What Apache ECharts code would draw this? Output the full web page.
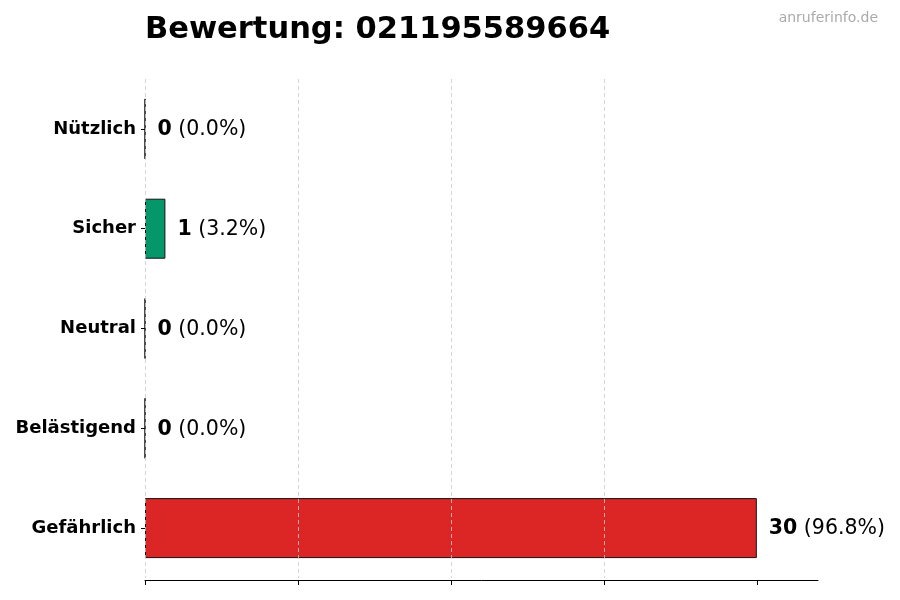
<!DOCTYPE html>
<html><head><meta charset="utf-8">
<script src="https://cdn.jsdelivr.net/npm/echarts@6/dist/echarts.min.js"></script>
<style>html,body{margin:0;padding:0;background:#fff}#c{width:900px;height:600px}</style>
</head><body><div id="c"></div>
<script>
const titleText = 'Bewertung: 021195589664';
const watermark = 'anruferinfo.de';
const categories = ['Nützlich', 'Sicher', 'Neutral', 'Belästigend', 'Gefährlich'];
const counts = [0, 1, 0, 0, 30];
const percents = ['0.0', '3.2', '0.0', '0.0', '96.8'];
const colors = ['#6b7280', '#059669', '#9ca3af', '#f59e0b', '#dc2626'];
const xTicks = [0, 7.5, 15, 22.5, 30];

const chart = echarts.init(document.getElementById('c'), null, {renderer: 'canvas'});
const font = 'DejaVu Sans';
chart.setOption({
  animation: false,
  backgroundColor: '#fff',
  textStyle: {fontFamily: font},
  title: [
    {text: titleText, left: 140, top: 10, textStyle: {fontFamily: font, fontSize: 30.5, fontWeight: 'bold', color: '#000'}},
    {text: watermark, right: 17, top: 6, textStyle: {fontFamily: font, fontSize: 14, fontWeight: 'normal', color: '#aaaaaa'}}
  ],
  grid: {left: 145, right: 82, top: 79, height: 499, containLabel: false},
  xAxis: {
    type: 'value', min: 0, max: 33, interval: 7.5, z: 10, offset: 2,
    axisLine: {show: true, onZero: false, lineStyle: {color: '#000', width: 1}},
    axisTick: {show: true, length: 5, inside: false, customValues: xTicks, lineStyle: {color: '#000'}},
    axisLabel: {show: false},
    splitLine: {show: true, showMinLine: true, showMaxLine: false, lineStyle: {color: '#cccccc', type: [4, 3], width: 0.8}}
  },
  yAxis: {
    type: 'category', data: categories, inverse: true,
    axisLine: {show: false},
    axisTick: {show: true, length: 4, alignWithLabel: true, lineStyle: {color: '#000'}},
    axisLabel: {fontFamily: font, fontSize: 18, fontWeight: 'bold', color: '#000', margin: 9, padding: [3, 0, 0, 0]}
  },
  series: [{
    type: 'bar',
    barWidth: 60,
    data: counts.map((v, i) => ({value: v, itemStyle: {color: colors[i]}})),
    itemStyle: {borderColor: '#111', borderWidth: 1},
    label: {
      show: true, position: 'right', distance: 12, offset: [0, 1],
      formatter: p => '{b|' + counts[p.dataIndex] + '}{n| (' + percents[p.dataIndex] + '%)}',
      rich: {
        b: {fontFamily: font, fontSize: 20.5, fontWeight: 'bold', color: '#000'},
        n: {fontFamily: font, fontSize: 20.5, color: '#000'}
      }
    }
  }]
});
</script></body></html>
